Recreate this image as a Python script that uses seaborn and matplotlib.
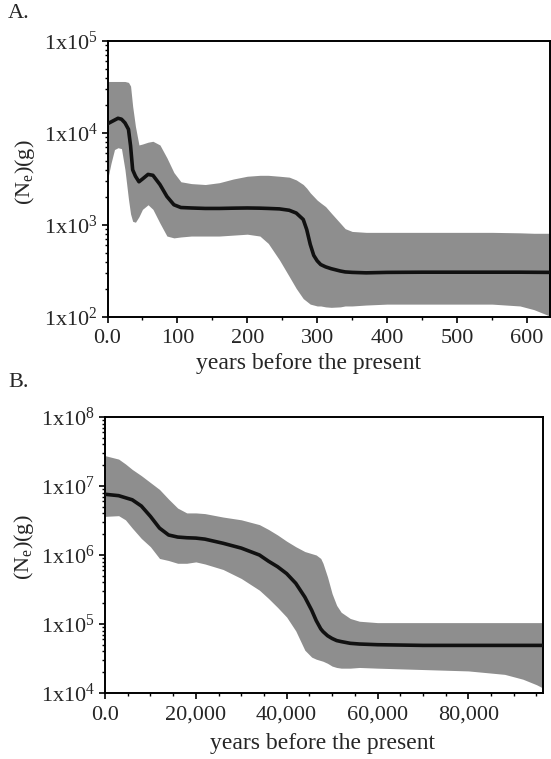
import numpy as np
import pandas as pd
import matplotlib
matplotlib.use("Agg")
import matplotlib.pyplot as plt
import matplotlib.ticker as mticker
import seaborn as sns

# ---------------- data (log10 of (Ne)(g)) ----------------
a_years = [0, 5, 10, 15, 20, 25, 30, 33, 36, 40, 45, 50, 58, 65, 75, 85, 95, 105, 120, 140,
           160, 180, 200, 218, 230, 246, 260, 270, 280, 285, 290, 295, 300, 305, 312, 320,
           333, 340, 350, 370, 400, 450, 500, 550, 590, 610, 633]
a_median_log10 = [4.10, 4.12, 4.14, 4.16, 4.15, 4.11, 4.04, 3.86, 3.60, 3.53, 3.47, 3.50, 3.55,
                  3.54, 3.44, 3.31, 3.22, 3.19, 3.185, 3.18, 3.18, 3.183, 3.185, 3.183, 3.18,
                  3.175, 3.16, 3.13, 3.06, 2.95, 2.79, 2.67, 2.61, 2.57, 2.545, 2.525, 2.50,
                  2.49, 2.485, 2.48, 2.485, 2.487, 2.487, 2.487, 2.487, 2.486, 2.485]
a_upper_log10 = [4.56, 4.56, 4.56, 4.56, 4.56, 4.56, 4.55, 4.51, 4.29, 4.07, 3.87, 3.88, 3.90,
                 3.91, 3.87, 3.73, 3.57, 3.47, 3.45, 3.44, 3.46, 3.50, 3.53, 3.54, 3.54, 3.53,
                 3.52, 3.49, 3.44, 3.40, 3.35, 3.31, 3.27, 3.24, 3.20, 3.13, 3.02, 2.96, 2.93,
                 2.92, 2.92, 2.92, 2.92, 2.92, 2.915, 2.91, 2.91]
a_lower_log10 = [3.49, 3.67, 3.82, 3.84, 3.83, 3.60, 3.28, 3.12, 3.04, 3.03, 3.09, 3.17, 3.22,
                 3.17, 3.02, 2.88, 2.86, 2.87, 2.88, 2.88, 2.88, 2.89, 2.90, 2.88, 2.80, 2.62,
                 2.44, 2.31, 2.20, 2.17, 2.14, 2.13, 2.12, 2.12, 2.11, 2.105, 2.11, 2.12, 2.12,
                 2.13, 2.14, 2.14, 2.14, 2.14, 2.12, 2.08, 2.01]

b_years = [0, 3000, 4500, 6000, 8000, 10000, 12000, 14000, 16000, 18000, 20000, 22000, 26000,
           30000, 34000, 36000, 38000, 40000, 42000, 44000, 45500, 46500, 47500, 48000, 49000,
           50000, 51000, 52000, 54000, 56000, 60000, 70000, 80000, 88000, 92000, 95000, 96500]
b_median_log10 = [6.88, 6.86, 6.83, 6.80, 6.71, 6.56, 6.39, 6.29, 6.26, 6.25, 6.245, 6.23, 6.17,
                  6.10, 6.00, 5.91, 5.83, 5.73, 5.59, 5.39, 5.20, 5.05, 4.93, 4.89, 4.83, 4.79,
                  4.76, 4.745, 4.72, 4.71, 4.70, 4.69, 4.69, 4.69, 4.69, 4.69, 4.69]
b_upper_log10 = [7.44, 7.39, 7.32, 7.24, 7.15, 7.05, 6.95, 6.81, 6.68, 6.61, 6.61, 6.60, 6.55,
                 6.51, 6.44, 6.37, 6.29, 6.20, 6.12, 6.05, 6.02, 6.00, 5.95, 5.88, 5.68, 5.44,
                 5.27, 5.17, 5.08, 5.04, 5.02, 5.02, 5.02, 5.02, 5.02, 5.02, 5.02]
b_lower_log10 = [6.56, 6.57, 6.51, 6.39, 6.24, 6.12, 5.95, 5.92, 5.88, 5.88, 5.90, 5.87, 5.79,
                 5.66, 5.49, 5.37, 5.24, 5.10, 4.90, 4.62, 4.52, 4.49, 4.47, 4.46, 4.43, 4.39,
                 4.37, 4.36, 4.36, 4.37, 4.36, 4.34, 4.32, 4.27, 4.20, 4.12, 4.07]

a_xticks = [0, 100, 200, 300, 400, 500, 600]
a_xticklabels = ["0.0", "100", "200", "300", "400", "500", "600"]
a_yexp = [2, 3, 4, 5]
b_xticks = [0, 20000, 40000, 60000, 80000]
b_xticklabels = ["0.0", "20,000", "40,000", "60,000", "80,000"]
b_yexp = [4, 5, 6, 7, 8]

# ---------------- style ----------------
sns.set_style("ticks")
plt.rcParams["font.family"] = ["Liberation Serif", "DejaVu Serif"]
plt.rcParams["mathtext.fontset"] = "custom"
plt.rcParams["mathtext.rm"] = "Liberation Serif"
plt.rcParams["mathtext.it"] = "Liberation Serif:italic"
plt.rcParams["mathtext.bf"] = "Liberation Serif:bold"

FS = 16
BAND = "#8e8e8e"

fig = plt.figure(figsize=(5.51, 7.59), dpi=100)
axA = fig.add_axes([107.5 / 551, 1 - 317 / 759, 442.5 / 551, 276 / 759])
axB = fig.add_axes([105 / 551, 1 - 693 / 759, 438.3 / 551, 276 / 759])


def draw(ax, years, med, up, lo, xmax, xticks, xlabels, xminor, yexp):
    df = pd.DataFrame({"year": years,
                       "median": np.power(10.0, med),
                       "upper": np.power(10.0, up),
                       "lower": np.power(10.0, lo)})
    ax.fill_between(df["year"], df["lower"], df["upper"], color=BAND, linewidth=0, zorder=1)
    sns.lineplot(data=df, x="year", y="median", ax=ax, color="#111111", linewidth=2.6,
                 zorder=3, estimator=None, sort=False, solid_joinstyle="round")
    ax.set_yscale("log")
    ax.set_xlim(0, xmax)
    ax.set_ylim(10.0 ** yexp[0], 10.0 ** yexp[-1])
    ax.set_xticks(xticks)
    ax.set_xticklabels(xlabels)
    ax.xaxis.set_minor_locator(mticker.MultipleLocator(xminor))
    ax.set_yticks([10.0 ** e for e in yexp])
    ax.set_yticklabels([r"1x10$^{%d}$" % e for e in yexp])
    ax.yaxis.set_minor_locator(mticker.LogLocator(base=10, subs=np.arange(2, 10)))
    ax.yaxis.set_minor_formatter(mticker.NullFormatter())
    ax.tick_params(axis="both", which="major", direction="out", length=4, width=1.2,
                   labelsize=FS, color="black", pad=3)
    ax.tick_params(axis="x", which="major", pad=5)
    ax.tick_params(axis="both", which="minor", direction="out", length=2, width=1.0,
                   color="black")
    for s in ax.spines.values():
        s.set_linewidth(1.4)
        s.set_color("black")
        s.set_visible(True)
    ax.set_xlabel("years before the present", fontsize=17, va="center")
    ax.set_ylabel(r"(N$_{\mathrm{e}}$)(g)", fontsize=16, va="center")


draw(axA, a_years, a_median_log10, a_upper_log10, a_lower_log10, 633,
     a_xticks, a_xticklabels, 50, a_yexp)
draw(axB, b_years, b_median_log10, b_upper_log10, b_lower_log10, 96500,
     b_xticks, b_xticklabels, 5000, b_yexp)

# label positions (axes fractions) matching the reference
axA.xaxis.set_label_coords((308 - 107.5) / 442.5, -47 / 276)
axA.yaxis.set_label_coords((25 - 107.5) / 442.5, (317 - 172) / 276)
axB.xaxis.set_label_coords((323 - 105) / 438.3, -50 / 276)
axB.yaxis.set_label_coords((24 - 105) / 438.3, (693 - 547) / 276)

fig.text(8 / 551, 1 - 14 / 759, "A.", fontsize=FS, ha="left", va="center")
fig.text(8 / 551, 1 - 382 / 759, "B.", fontsize=FS, ha="left", va="center")

fig.savefig("out.png", dpi=100)
